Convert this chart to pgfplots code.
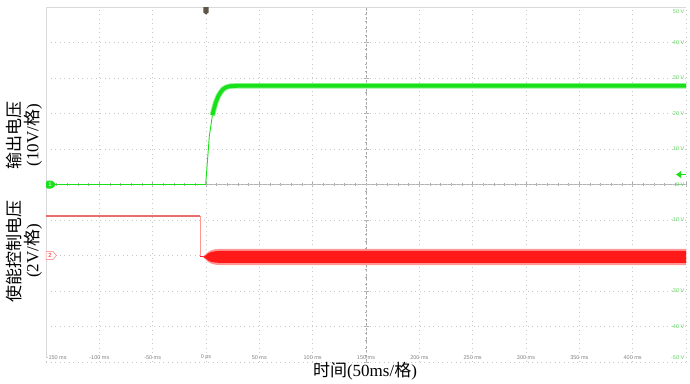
\documentclass[border=0pt]{standalone}
\usepackage{fontspec}
\setmainfont{Liberation Serif}
\newfontfamily\cjk{Noto Sans CJK SC}
\newfontfamily\arial{Liberation Sans}
\usepackage{pgfplots}
\pgfplotsset{compat=1.18}
\usetikzlibrary{arrows.meta}

\definecolor{grn}{RGB}{25,225,25}
\definecolor{grnl}{RGB}{150,240,150}
\definecolor{redc}{RGB}{255,25,25}
\definecolor{redl}{RGB}{255,150,150}
\definecolor{redp}{RGB}{235,110,110}
\definecolor{gridc}{RGB}{200,200,200}
\definecolor{tickc}{RGB}{130,130,130}
\definecolor{lblg}{RGB}{90,215,90}
\definecolor{trig}{RGB}{95,85,70}

\begin{document}
\begin{tikzpicture}
\path[use as bounding box] (0,0) rectangle (690pt,-383pt);
% centre lines with ticks
\begin{axis}[at={(46pt,-7pt)}, anchor=north west, width=640pt, height=355pt, scale only axis,
  xmin=-6,xmax=6,ymin=-5,ymax=5, axis lines=center,
  x axis line style={-, draw=gray!60, line width=0.5pt},
  y axis line style={-, draw=gray!70, line width=0.5pt, dash pattern=on 3pt off 1.5pt},
  xtick={-6,...,6}, ytick={-5,...,5}, minor x tick num=4, minor y tick num=4,
  tick align=center, major tick length=5pt, minor tick length=2.5pt,
  every tick/.style={draw=gray!65, line width=0.5pt},
  xticklabels={}, yticklabels={}]
\end{axis}
\begin{axis}[at={(46pt,-7pt)}, anchor=north west, width=640pt, height=355pt, scale only axis,
  xmin=-150,xmax=450,ymin=-50,ymax=50, axis line style={draw=none},
  xtick={-150,-100,...,450}, ytick={-50,-40,...,50}, xticklabels={}, yticklabels={},
  major tick length=0pt, grid=major,
  major grid style={draw=gridc, line width=0.6pt, dash pattern=on 1pt off 3.5pt},
  clip=false]
\draw[gray!30, line width=0.6pt] (axis cs:-150,-49) -- (axis cs:-150,50) -- (axis cs:450,50);
% tick labels
\begin{scope}[every node/.style={font=\arial\fontsize{5.5}{6}\selectfont, text=tickc, inner sep=0.5pt, yshift=1.5pt}]
\node[anchor=south west] at (axis cs:-150,-50) {-150 ms};
\node[anchor=south] at (axis cs:-100,-50) {-100 ms};
\node[anchor=south] at (axis cs:-50,-50) {-50 ms};
\node[anchor=south] at (axis cs:0,-50) {0 ps};
\node[anchor=south] at (axis cs:50,-50) {50 ms};
\node[anchor=south] at (axis cs:100,-50) {100 ms};
\node[anchor=south] at (axis cs:150,-50) {150 ms};
\node[anchor=south] at (axis cs:200,-50) {200 ms};
\node[anchor=south] at (axis cs:250,-50) {250 ms};
\node[anchor=south] at (axis cs:300,-50) {300 ms};
\node[anchor=south] at (axis cs:350,-50) {350 ms};
\node[anchor=south] at (axis cs:400,-50) {400 ms};
\end{scope}
\begin{scope}[every node/.style={font=\arial\fontsize{5.5}{6}\selectfont, text=lblg, inner sep=0.5pt, xshift=-1pt}]
\node[anchor=north east, yshift=-1.5pt] at (axis cs:450,50) {50 V};
\node[anchor=east] at (axis cs:450,40) {40 V};
\node[anchor=east] at (axis cs:450,30) {30 V};
\node[anchor=east] at (axis cs:450,20) {20 V};
\node[anchor=east] at (axis cs:450,10) {10 V};
\node[anchor=east] at (axis cs:450,0) {0 V};
\node[anchor=east] at (axis cs:450,-10) {-10 V};
\node[anchor=east] at (axis cs:450,-20) {-20 V};
\node[anchor=east] at (axis cs:450,-30) {-30 V};
\node[anchor=east] at (axis cs:450,-40) {-40 V};
\node[anchor=south east, yshift=1.5pt] at (axis cs:450,-50) {-50 V};
\end{scope}
% enable control voltage (channel 2)
\addplot[redp, line width=1.4pt] coordinates {(-150,-8.9) (-5.6,-8.9)};
\addplot[redl, line width=0.4pt] coordinates {(-5.6,-8.9) (-5.6,-20.4)};
\addplot[redc, line width=0.9pt] coordinates {(-5.6,-20.4) (-2,-20.4)};
\addplot[fill=redl, draw=none] coordinates {(-3,-20.4) (0,-19.6) (2,-19.0) (5,-18.5) (9,-18.2) (14,-18.1) (450,-18.1)
  (450,-22.7) (14,-22.7) (9,-22.6) (5,-22.3) (2,-21.8) (0,-21.2) (-3,-20.4)} -- cycle;
\addplot[fill=redc, draw=none] coordinates {(-2.5,-20.4) (0,-19.9) (2,-19.4) (5,-19.0) (9,-18.8) (14,-18.7) (450,-18.7)
  (450,-22.1) (14,-22.1) (9,-22.0) (5,-21.8) (2,-21.4) (0,-20.9) (-2.5,-20.4)} -- cycle;
% output voltage (channel 1)
\addplot[grn, line width=0.9pt] coordinates {(-150,0) (-0.3,0) (3.1,13.6) (6,19.5)};
\addplot[grnl, line width=5.5pt, line join=round] coordinates {(6,19.5) (7,20.8) (9,23) (11.5,24.9) (14,26.1) (16.2,26.9) (19,27.4) (22.5,27.7) (30,27.8) (450,27.8)};
\addplot[grn, line width=3.8pt, line join=round] coordinates {(6,19.5) (7,20.8) (9,23) (11.5,24.9) (14,26.1) (16.2,26.9) (19,27.4) (22.5,27.7) (30,27.8) (450,27.8)};
\coordinate (m1) at (axis cs:-150,0);
\coordinate (m2) at (axis cs:-150,-20);
\coordinate (tl) at (axis cs:450,2.8);
\coordinate (tg) at (axis cs:0,50);
\end{axis}
% channel markers
\fill[grn, rounded corners=1.5pt] (m1) ++(0,4pt) -- ++(6.5pt,0) -- ++(3.5pt,-4pt) -- ++(-3.5pt,-4pt) -- ++(-6.5pt,0) -- cycle;
\node[text=white, font=\arial\fontsize{6}{6}\selectfont, inner sep=0pt] at ([xshift=4pt]m1) {1};
\draw[redc!60, fill=white, line width=0.5pt] (m2) ++(0,4pt) -- ++(7pt,0) -- ++(3.5pt,-4pt) -- ++(-3.5pt,-4pt) -- ++(-7pt,0) -- cycle;
\node[text=redc, font=\arial\fontsize{6}{6}\selectfont, inner sep=0pt] at ([xshift=4pt]m2) {2};
\draw[grn, line width=1.3pt, -{Triangle[length=5pt,width=6.5pt]}] (tl) -- ++(-10pt,0);
\fill[trig] (tg) ++(-2.6pt,0) -- ++(5.2pt,0) -- ++(0,-5.5pt) -- ++(-2.6pt,-2pt) -- ++(-2.6pt,2pt) -- cycle;
% axis titles
\node[rotate=90, align=center, font=\fontsize{17}{18}\selectfont] at (24pt,-135pt) {{\cjk 输出电压}\\(10V/{\cjk 格})};
\node[rotate=90, align=center, font=\fontsize{17}{18}\selectfont] at (24pt,-251pt) {{\cjk 使能控制电压}\\(2V/{\cjk 格})};
\node[font=\fontsize{17}{18}\selectfont] at (365pt,-371pt) {{\cjk 时间}(50ms/{\cjk 格})};
\end{tikzpicture}
\end{document}
